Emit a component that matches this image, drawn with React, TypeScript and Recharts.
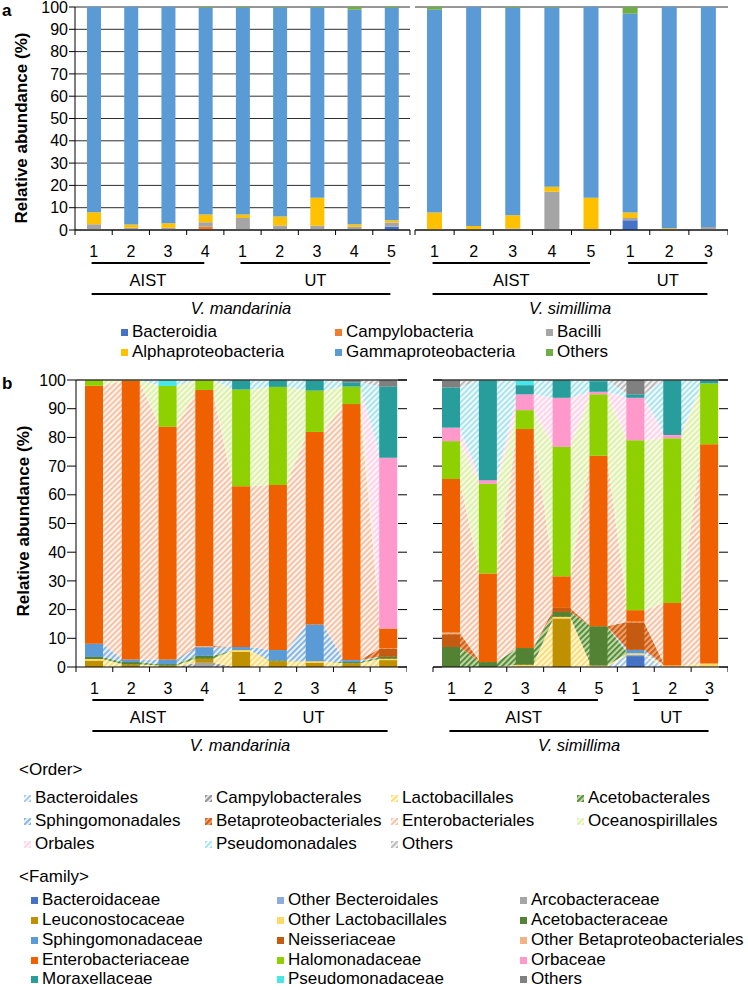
import React from 'react';
import { BarChart, Bar, AreaChart, Area, XAxis, YAxis, CartesianGrid, ReferenceLine } from 'recharts';

const FONT = '"Liberation Sans", Arial, Helvetica, sans-serif';
const PCT_TICKS = [0, 10, 20, 30, 40, 50, 60, 70, 80, 90, 100];

// samples and the numbers printed under the bars
const mandIds = ['AIST1', 'AIST2', 'AIST3', 'AIST4', 'UT1', 'UT2', 'UT3', 'UT4', 'UT5'];
const mandTicks = ['1', '2', '3', '4', '1', '2', '3', '4', '5'];
const simIds = ['AIST1', 'AIST2', 'AIST3', 'AIST4', 'AIST5', 'UT1', 'UT2', 'UT3'];
const simTicks = ['1', '2', '3', '4', '5', '1', '2', '3'];

type Group = { label: string; from: number; to: number };
const mandGroups: Group[] = [{ label: 'AIST', from: 0, to: 3 }, { label: 'UT', from: 4, to: 8 }];
const simGroups: Group[] = [{ label: 'AIST', from: 0, to: 4 }, { label: 'UT', from: 5, to: 7 }];

// ---- panel a : class level ----
const classNames = ['Bacteroidia', 'Campylobacteria', 'Bacilli', 'Alphaproteobacteria', 'Gammaproteobacteria', 'Others'];
const classColors = ['#4472c4', '#ed7d31', '#a5a5a5', '#ffc000', '#5b9bd5', '#70ad47'];

const mBacteroidia = [0, 0, 0, 0, 0, 0, 0, 0, 1.5];
const mCampylobacteria = [0, 0, 0, 1.5, 0, 0, 0, 0, 0];
const mBacilli = [2.6, 1.0, 1.0, 2.0, 5.4, 2.0, 1.9, 1.5, 1.9];
const mAlpha = [5.4, 1.5, 2.0, 3.5, 1.5, 4.0, 12.6, 1.1, 1.0];
const mGamma = [92.0, 97.5, 97.0, 92.7, 92.8, 93.8, 85.3, 96.2, 95.1];
const mOthers = [0, 0, 0, 0.3, 0.3, 0.2, 0.2, 1.2, 0.5];

const sBacteroidia = [0, 0, 0, 0, 0, 4.4, 0, 0];
const sCampylobacteria = [0, 0, 0, 0, 0, 0, 0, 0];
const sBacilli = [0.3, 0.3, 0.7, 17.1, 0.3, 1.0, 0.3, 1.3];
const sAlpha = [7.6, 1.5, 5.9, 2.3, 14.2, 2.5, 0.5, 0];
const sGamma = [90.9, 98.2, 93.1, 80.4, 85.5, 89.1, 99.2, 98.7];
const sOthers = [1.2, 0, 0.3, 0.2, 0, 3.0, 0, 0];

// ---- panel b : family level (bars) and order level (hatched bands) ----
const familyNames = [
  'Bacteroidaceae', 'Other Becteroidales', 'Arcobacteraceae',
  'Leuconostocaceae', 'Other Lactobacillales', 'Acetobacteraceae',
  'Sphingomonadaceae', 'Neisseriaceae', 'Other Betaproteobacteriales',
  'Enterobacteriaceae', 'Halomonadaceae', 'Orbaceae',
  'Moraxellaceae', 'Pseudomonadaceae', 'Others',
];
const familyColors = [
  '#4472c4', '#8faadc', '#a5a5a5', '#bf9000', '#ffd966', '#548235', '#5b9bd5', '#c55a11',
  '#f4b183', '#ef6100', '#8fd100', '#ff99cc', '#289e9c', '#48e8ea', '#808080',
];
// which order each family belongs to (index into orderNames)
const familyOrder = [0, 0, 1, 2, 2, 3, 4, 5, 5, 6, 7, 8, 9, 9, 10];

const orderNames = [
  'Bacteroidales', 'Campylobacterales', 'Lactobacillales', 'Acetobacterales',
  'Sphingomonadales', 'Betaproteobacteriales', 'Enterobacteriales', 'Oceanospirillales',
  'Orbales', 'Pseudomonadales', 'Others',
];
const orderFg = ['#9dc3e6', '#8a8a8a', '#ffd966', '#548235', '#7fb0e0', '#c55a11', '#f6bd9e', '#dcefa6', '#ffcfe6', '#a3e1ec', '#b5b5b5'];
const orderBg = ['#f3f8fd', '#e3e3e3', '#fff8dc', '#b9dba2', '#eaf2fb', '#f2a06e', '#fff4ee', '#f5fbe4', '#fff5fa', '#f0fbfd', '#f2f2f2'];

// V. mandarinia
const mBacteroidaceae = [0, 0, 0, 0, 0, 0, 0, 0, 0];
const mOtherBacteroidales = [0, 0, 0, 0, 0, 0, 0, 0, 0];
const mArcobacteraceae = [0, 0, 0, 1.5, 0, 0, 0, 0, 0];
const mLeuconostocaceae = [2.2, 0.9, 0.5, 1.4, 5.3, 2.0, 1.5, 1.3, 2.4];
const mOtherLactobacillales = [0.6, 0, 0, 0, 0.6, 0, 0.5, 0, 0.5];
const mAcetobacteraceae = [0.7, 0.8, 0.5, 1.0, 0, 0.3, 0, 0.4, 0.7];
const mSphingomonadaceae = [4.6, 0.9, 1.6, 3.0, 1.1, 3.6, 12.8, 0.7, 0];
const mNeisseriaceae = [0, 0, 0, 0, 0, 0, 0, 0, 2.8];
const mOtherBeta = [0, 0, 0, 0.4, 0, 0, 0, 0, 0.2];
const mEnterobacteriaceae = [89.9, 97.1, 81.1, 89.2, 56.0, 57.5, 67.1, 89.2, 6.8];
const mHalomonadaceae = [2.0, 0.3, 14.2, 3.5, 33.7, 34.2, 14.4, 6.1, 0];
const mOrbaceae = [0, 0, 0, 0, 0, 0, 0, 0, 59.5];
const mMoraxellaceae = [0, 0, 0, 0, 3.3, 2.4, 3.7, 1.5, 24.8];
const mPseudomonadaceae = [0, 0, 2.1, 0, 0, 0, 0, 0, 0];
const mOtherFamilies = [0, 0, 0, 0, 0, 0, 0, 0.8, 2.3];

// V. simillima
const sBacteroidaceae = [0, 0, 0, 0, 0, 3.8, 0, 0];
const sOtherBacteroidales = [0, 0, 0, 0, 0, 0.5, 0, 0];
const sArcobacteraceae = [0, 0, 0, 0, 0, 0, 0, 0];
const sLeuconostocaceae = [0, 0, 0, 16.9, 0, 0, 0, 0];
const sOtherLactobacillales = [0, 0, 0.8, 0.6, 0.5, 0.5, 0.5, 1.2];
const sAcetobacteraceae = [7.0, 1.7, 5.8, 1.7, 13.7, 0, 0, 0];
const sSphingomonadaceae = [0, 0, 0, 0, 0, 1.2, 0, 0];
const sNeisseriaceae = [4.4, 0, 0, 1.4, 0, 9.5, 0, 0];
const sOtherBeta = [0.6, 0, 0, 0, 0, 0.3, 0, 0];
const sEnterobacteriaceae = [53.5, 30.9, 76.3, 11.0, 59.4, 4.0, 21.8, 76.4];
const sHalomonadaceae = [13.2, 31.2, 6.6, 45.1, 21.4, 59.2, 57.4, 21.2];
const sOrbaceae = [4.7, 1.3, 5.5, 17.1, 0.9, 14.8, 1.1, 0];
const sMoraxellaceae = [14.0, 34.9, 3.2, 6.2, 3.7, 1.2, 19.2, 1.2];
const sPseudomonadaceae = [0, 0, 1.8, 0, 0.4, 0, 0, 0];
const sOtherFamilies = [2.6, 0, 0, 0, 0, 5.0, 0, 0];

const mFamilies = [
  mBacteroidaceae, mOtherBacteroidales, mArcobacteraceae, mLeuconostocaceae, mOtherLactobacillales,
  mAcetobacteraceae, mSphingomonadaceae, mNeisseriaceae, mOtherBeta, mEnterobacteriaceae,
  mHalomonadaceae, mOrbaceae, mMoraxellaceae, mPseudomonadaceae, mOtherFamilies,
];
const sFamilies = [
  sBacteroidaceae, sOtherBacteroidales, sArcobacteraceae, sLeuconostocaceae, sOtherLactobacillales,
  sAcetobacteraceae, sSphingomonadaceae, sNeisseriaceae, sOtherBeta, sEnterobacteriaceae,
  sHalomonadaceae, sOrbaceae, sMoraxellaceae, sPseudomonadaceae, sOtherFamilies,
];

// rows for a stacked bar chart
const toRows = (ids: string[], keys: string[], series: number[][]) =>
  ids.map((id, i) => {
    const row: Record<string, any> = { id };
    keys.forEach((k, j) => { row[k] = series[j][i]; });
    return row;
  });

// order totals at the two edges of every bar, on a 0..n numeric axis
const toBands = (fam: number[][], n: number, band: number, barSize: number) => {
  const hw = (barSize / 2 - 1) / band;
  const rows: Record<string, number>[] = [];
  for (let i = 0; i < n; i++) {
    const totals = orderNames.map((_, k) =>
      fam.reduce((s, vals, j) => (familyOrder[j] === k ? s + vals[i] : s), 0));
    [i + 0.5 - hw, i + 0.5 + hw].forEach((x) => {
      const row: Record<string, number> = { x };
      orderNames.forEach((o, k) => { row[o] = totals[k]; });
      rows.push(row);
    });
  }
  return rows;
};

type Frame = { left: number; top: number; width: number; height: number; yw: number; right: number; mt: number; xh: number };

const frameAL: Frame = { left: 0, top: 0, width: 411, height: 320, yw: 75, right: 1, mt: 7, xh: 90 };
const frameAR: Frame = { left: 414, top: 0, width: 314, height: 320, yw: 1, right: 0, mt: 7, xh: 90 };
const frameBL: Frame = { left: 0, top: 373, width: 407, height: 384, yw: 76, right: 0, mt: 7, xh: 90 };
const frameBR: Frame = { left: 432, top: 373, width: 296, height: 384, yw: 1, right: 0, mt: 7, xh: 90 };

const txt = { fontFamily: FONT, fill: '#000' };

// category ticks + site / species brackets under the axis
const makeXTick = (labels: string[], groups: Group[], species: string, band: number) => (props: any) => {
  const { x, y, index } = props;
  const last = labels.length - 1;
  const els: React.ReactNode[] = [];
  els.push(<line key="tl" x1={x - band / 2} x2={x - band / 2} y1={y} y2={y + 5} stroke="#000" />);
  if (index === last) els.push(<line key="tr" x1={x + band / 2} x2={x + band / 2} y1={y} y2={y + 5} stroke="#000" />);
  els.push(
    <text key="n" x={x} y={y + 21} dy="0.355em" textAnchor="middle" fontSize={16} {...txt}>{labels[index]}</text>,
  );
  groups.forEach((g, gi) => {
    if (g.from !== index) return;
    const x1 = x - 2;
    const x2 = x + (g.to - g.from) * band - 1;
    els.push(<line key={`g${gi}`} x1={x1} x2={x2} y1={y + 33} y2={y + 33} stroke="#000" strokeWidth={2} />);
    els.push(
      <text key={`gl${gi}`} x={(x1 + x2) / 2} y={y + 50} dy="0.355em" textAnchor="middle" fontSize={16.5} {...txt}>{g.label}</text>,
    );
  });
  if (index === 0) {
    const x1 = x - 2;
    const x2 = x + last * band - 1;
    els.push(<line key="sp" x1={x1} x2={x2} y1={y + 64} y2={y + 64} stroke="#000" strokeWidth={2} />);
    els.push(
      <text key="spl" x={(x1 + x2) / 2} y={y + 78} dy="0.355em" textAnchor="middle" fontSize={16.5} fontStyle="italic" {...txt}>{species}</text>,
    );
  }
  return <g>{els}</g>;
};

// panel b y ticks: outward ticks + labels on the left chart, inner ticks at the plot edges
const makeBYTick = (showLabel: boolean, plotW: number) => (props: any) => {
  const { x, y, payload } = props;
  return (
    <g>
      {showLabel && <line x1={x - 9} x2={x} y1={y} y2={y} stroke="#000" />}
      {showLabel && (
        <text x={x - 10} y={y} dy="0.355em" textAnchor="end" fontSize={16} {...txt}>{payload.value}</text>
      )}
      {!showLabel && <line x1={x} x2={x + 9} y1={y} y2={y} stroke="#000" />}
      <line x1={x + plotW - 9} x2={x + plotW} y1={y} y2={y} stroke="#000" />
    </g>
  );
};

function ClassChart(props: {
  f: Frame; ids: string[]; ticks: string[]; series: number[][]; groups: Group[];
  species: string; barSize: number; showY: boolean;
}) {
  const { f, ids, ticks, series, groups, species, barSize, showY } = props;
  const data = toRows(ids, classNames, series);
  const band = (f.width - f.yw - f.right) / ids.length;
  return (
    <div style={{ position: 'absolute', left: f.left, top: f.top }}>
      <BarChart width={f.width} height={f.height} data={data} margin={{ top: f.mt, right: f.right, left: 0, bottom: 0 }}>
        <CartesianGrid vertical={false} stroke="#2e2e2e" />
        <XAxis
          dataKey="id" height={f.xh} interval={0} tickLine={false} tickSize={0} tickMargin={0}
          axisLine={{ stroke: '#000' }} tick={makeXTick(ticks, groups, species, band)}
        />
        {showY ? (
          <YAxis
            width={f.yw} domain={[0, 100]} ticks={PCT_TICKS} interval={0} allowDataOverflow
            tickSize={6} tickMargin={1} axisLine={{ stroke: '#000' }} tickLine={{ stroke: '#000' }}
            tick={{ fontSize: 16, fill: '#000', fontFamily: FONT }}
          />
        ) : (
          <YAxis
            width={f.yw} domain={[0, 100]} ticks={PCT_TICKS} interval={0} allowDataOverflow
            tick={false} axisLine={false} tickLine={false}
          />
        )}
        {classNames.map((c, k) => (
          <Bar key={c} dataKey={c} stackId="c" fill={classColors[k]} barSize={barSize} isAnimationActive={false} />
        ))}
      </BarChart>
    </div>
  );
}

function FamilyChart(props: {
  f: Frame; ids: string[]; ticks: string[]; fam: number[][]; groups: Group[];
  species: string; showY: boolean;
}) {
  const { f, ids, ticks, fam, groups, species, showY } = props;
  const n = ids.length;
  const plotW = f.width - f.yw - f.right;
  const band = plotW / n;
  const barSize = 18;
  const data = toRows(ids, familyNames, fam);
  const bands = toBands(fam, n, band, barSize);
  return (
    <div style={{ position: 'absolute', left: f.left, top: f.top, width: f.width, height: f.height }}>
      <div style={{ position: 'absolute', left: 0, top: 0 }}>
        <AreaChart
          width={f.width} height={f.height} data={bands}
          margin={{ top: f.mt, right: f.right, left: f.yw, bottom: f.xh }}
        >
          <XAxis type="number" dataKey="x" domain={[0, n]} allowDataOverflow hide />
          <YAxis domain={[0, 100]} allowDataOverflow hide />
          {orderNames.map((o, k) => (
            <Area
              key={o} type="linear" dataKey={o} stackId="o" stroke="none"
              fill={`url(#ord${k})`} fillOpacity={1} dot={false} activeDot={false} isAnimationActive={false}
            />
          ))}
        </AreaChart>
      </div>
      <div style={{ position: 'absolute', left: 0, top: 0 }}>
        <BarChart width={f.width} height={f.height} data={data} margin={{ top: f.mt, right: f.right, left: 0, bottom: 0 }}>
          <XAxis
            dataKey="id" height={f.xh} interval={0} tickLine={false} tickSize={0} tickMargin={0}
            axisLine={{ stroke: '#000' }} tick={makeXTick(ticks, groups, species, band)}
          />
          <YAxis
            width={f.yw} domain={[0, 100]} ticks={PCT_TICKS} interval={0} allowDataOverflow
            tickSize={0} tickMargin={0} tickLine={false}
            axisLine={showY ? { stroke: '#000' } : false}
            tick={makeBYTick(showY, plotW)}
          />
          {familyNames.map((c, k) => (
            <Bar key={c} dataKey={c} stackId="f" fill={familyColors[k]} barSize={barSize} isAnimationActive={false} />
          ))}
          <ReferenceLine y={100} stroke="#3a3a3a" strokeWidth={1.5} />
        </BarChart>
      </div>
    </div>
  );
}

function LegendItem({ left, cy, label, children }: { left: number; cy: number; label: string; children: React.ReactNode }) {
  return (
    <div
      style={{
        position: 'absolute', left, top: cy - 9, height: 18, lineHeight: '18px', display: 'flex', alignItems: 'center',
        whiteSpace: 'nowrap', fontFamily: FONT, fontSize: 17, color: '#000',
      }}
    >
      {children}
      <span style={{ marginLeft: 4 }}>{label}</span>
    </div>
  );
}

const colorBox = (c: string) => <span style={{ display: 'inline-block', width: 7, height: 7, background: c }} />;
const hatchBox = (k: number) => (
  <svg width={7} height={7} style={{ display: 'block' }}>
    <rect width={7} height={7} fill={`url(#ord${k})`} />
  </svg>
);

export default function App() {
  const aCols = [121, 335, 546];
  const aRows = [332, 352];
  const oCols = [24, 205, 391, 577];
  const oRows = [798, 821, 844];
  const fCols = [31, 277, 520];
  const fRows = [900, 920, 940, 960, 979];

  return (
    <div style={{ position: 'absolute', left: 0, top: 0, width: 748, height: 990, background: '#fff', overflow: 'hidden' }}>
      <svg width={0} height={0} style={{ position: 'absolute' }}>
        <defs>
          {orderNames.map((o, k) => (
            <pattern key={o} id={`ord${k}`} patternUnits="userSpaceOnUse" width={4} height={4} patternTransform="rotate(45)">
              <rect width={4} height={4} fill={orderBg[k]} />
              <rect width={1.8} height={4} fill={orderFg[k]} />
            </pattern>
          ))}
        </defs>
      </svg>

      <ClassChart
        f={frameAL} ids={mandIds} ticks={mandTicks} groups={mandGroups} species="V. mandarinia" barSize={14} showY
        series={[mBacteroidia, mCampylobacteria, mBacilli, mAlpha, mGamma, mOthers]}
      />
      <ClassChart
        f={frameAR} ids={simIds} ticks={simTicks} groups={simGroups} species="V. simillima" barSize={15} showY={false}
        series={[sBacteroidia, sCampylobacteria, sBacilli, sAlpha, sGamma, sOthers]}
      />

      {classNames.map((c, k) => (
        <LegendItem key={c} left={aCols[k % 3]} cy={aRows[Math.floor(k / 3)]} label={c}>{colorBox(classColors[k])}</LegendItem>
      ))}

      <FamilyChart f={frameBL} ids={mandIds} ticks={mandTicks} fam={mFamilies} groups={mandGroups} species="V. mandarinia" showY />
      <FamilyChart f={frameBR} ids={simIds} ticks={simTicks} fam={sFamilies} groups={simGroups} species="V. simillima" showY={false} />

      <div style={{ position: 'absolute', left: 19, top: 760, fontFamily: FONT, fontSize: 17, lineHeight: '20px' }}>&lt;Order&gt;</div>
      {orderNames.map((o, k) => (
        <LegendItem key={o} left={oCols[k % 4]} cy={oRows[Math.floor(k / 4)]} label={o}>{hatchBox(k)}</LegendItem>
      ))}

      <div style={{ position: 'absolute', left: 19, top: 867, fontFamily: FONT, fontSize: 17, lineHeight: '20px' }}>&lt;Family&gt;</div>
      {familyNames.map((c, k) => (
        <LegendItem key={c} left={fCols[k % 3]} cy={fRows[Math.floor(k / 3)]} label={c}>{colorBox(familyColors[k])}</LegendItem>
      ))}

      <svg width={748} height={990} style={{ position: 'absolute', left: 0, top: 0, pointerEvents: 'none' }}>
        <text x={2} y={16} fontSize={17} fontWeight="bold" {...txt}>a</text>
        <text x={2} y={389} fontSize={17} fontWeight="bold" {...txt}>b</text>
        <text x={27} y={128} transform="rotate(-90 27 128)" textAnchor="middle" fontSize={17} fontWeight="bold" {...txt}>
          Relative abundance (%)
        </text>
        <text x={29} y={521} transform="rotate(-90 29 521)" textAnchor="middle" fontSize={17} fontWeight="bold" {...txt}>
          Relative abundance (%)
        </text>
      </svg>
    </div>
  );
}
